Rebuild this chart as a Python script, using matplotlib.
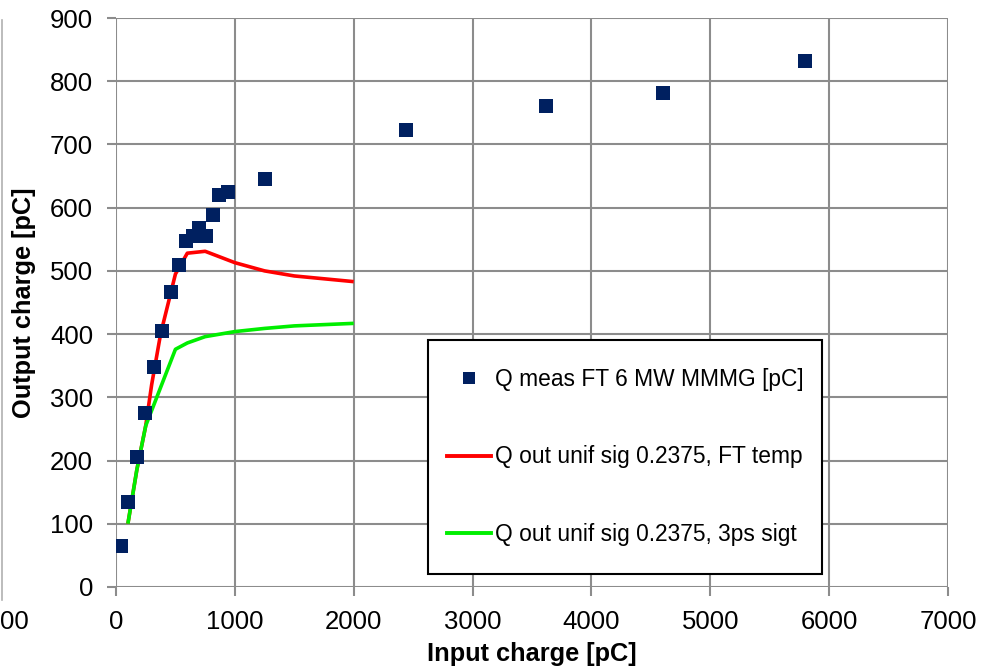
import matplotlib
matplotlib.use('Agg')
import matplotlib.pyplot as plt
from matplotlib.lines import Line2D
from matplotlib.patches import Rectangle

plt.rcParams['font.family'] = ['Liberation Sans', 'DejaVu Sans']

# measured output charge vs input charge
meas_in = [40, 100, 175, 245, 320, 385, 463, 530, 589, 645, 698, 757, 814, 867, 940, 1251,
           2440, 3618, 4602, 5797]
meas_out = [65, 135, 205, 275, 348, 405, 466, 510, 548, 555, 568, 555, 589, 620, 624, 645,
            723, 761, 781, 832]

# model curves
ft_in = [100, 175, 250, 300, 375, 500, 600, 750, 1000, 1250, 1500, 2000]
ft_out = [100, 185, 255, 320, 400, 495, 528, 531, 513, 500, 492, 483]
sig_in = [100, 175, 250, 500, 600, 750, 1000, 1250, 1500, 2000]
sig_out = [100, 185, 255, 376, 386, 396, 404, 409, 413, 417]

x_ticks = [0, 1000, 2000, 3000, 4000, 5000, 6000, 7000]
y_ticks = [0, 100, 200, 300, 400, 500, 600, 700, 800, 900]

W, H = 992, 670
fig = plt.figure(figsize=(W / 100, H / 100), dpi=100)
ax = fig.add_axes([116 / W, 1 - 587 / H, (948 - 116) / W, (587 - 18) / H])

grid_c = '#8c8c8c'
ax.plot(ft_in, ft_out, color='#ff0000', lw=2.6, zorder=3, solid_capstyle='butt')
ax.plot(sig_in, sig_out, color='#00ee00', lw=2.6, zorder=3, solid_capstyle='butt')
ax.plot(meas_in, meas_out, 's', color='#002060', ms=10.2, mew=0, zorder=4)

ax.set_xlim(0, 7000)
ax.set_ylim(0, 900)
ax.set_xticks(x_ticks)
ax.set_yticks(y_ticks)
ax.grid(True, color=grid_c, lw=1.5)
ax.set_axisbelow(True)
for s in ax.spines.values():
    s.set_visible(False)
ax.tick_params(length=6.5, width=1.5, color=grid_c, labelsize=18.5)
ax.tick_params(axis='y', pad=10)
ax.tick_params(axis='x', pad=10)

ax.set_xlabel('Input charge [pC]', fontsize=18.3, fontweight='bold')
ax.set_ylabel('Output charge [pC]', fontsize=18.3, fontweight='bold')
ax.xaxis.set_label_coords(0.5, (587 - 642) / 569)
ax.yaxis.set_label_coords((36 - 116) / 832, 0.5)

# legend box
fig.add_artist(Rectangle((428 / W, 1 - 574 / H), (822 - 428) / W, (574 - 340) / H,
                         transform=fig.transFigure, facecolor='white',
                         edgecolor='black', lw=1.5, zorder=5))
handles = [
    Line2D([], [], ls='none', marker='s', color='#002060', ms=8.2, mew=0),
    Line2D([], [], color='#ff0000', lw=2.8),
    Line2D([], [], color='#00ee00', lw=2.8),
]
labels = ['Q meas FT 6 MW MMMG [pC]',
          'Q out unif sig 0.2375, FT temp',
          'Q out unif sig 0.2375, 3ps sigt']
leg = fig.legend(handles, labels, loc='center left',
                 bbox_to_anchor=(447 / W, 1 - 457 / H),
                 fontsize=16.4, frameon=False, borderpad=0, labelspacing=2.39,
                 handlelength=1.93, handletextpad=0.18, borderaxespad=0)
leg.set_zorder(6)

# partial neighbouring panel at the left edge
fig.add_artist(Line2D([2 / W, 2 / W], [1 - 600 / H, 1 - 20 / H], color='#b0b0b0', lw=1.2))
fig.text(0, 1 - 622 / H, '00', fontsize=18.5, ha='left', va='center')

fig.savefig('out.png', dpi=100)
